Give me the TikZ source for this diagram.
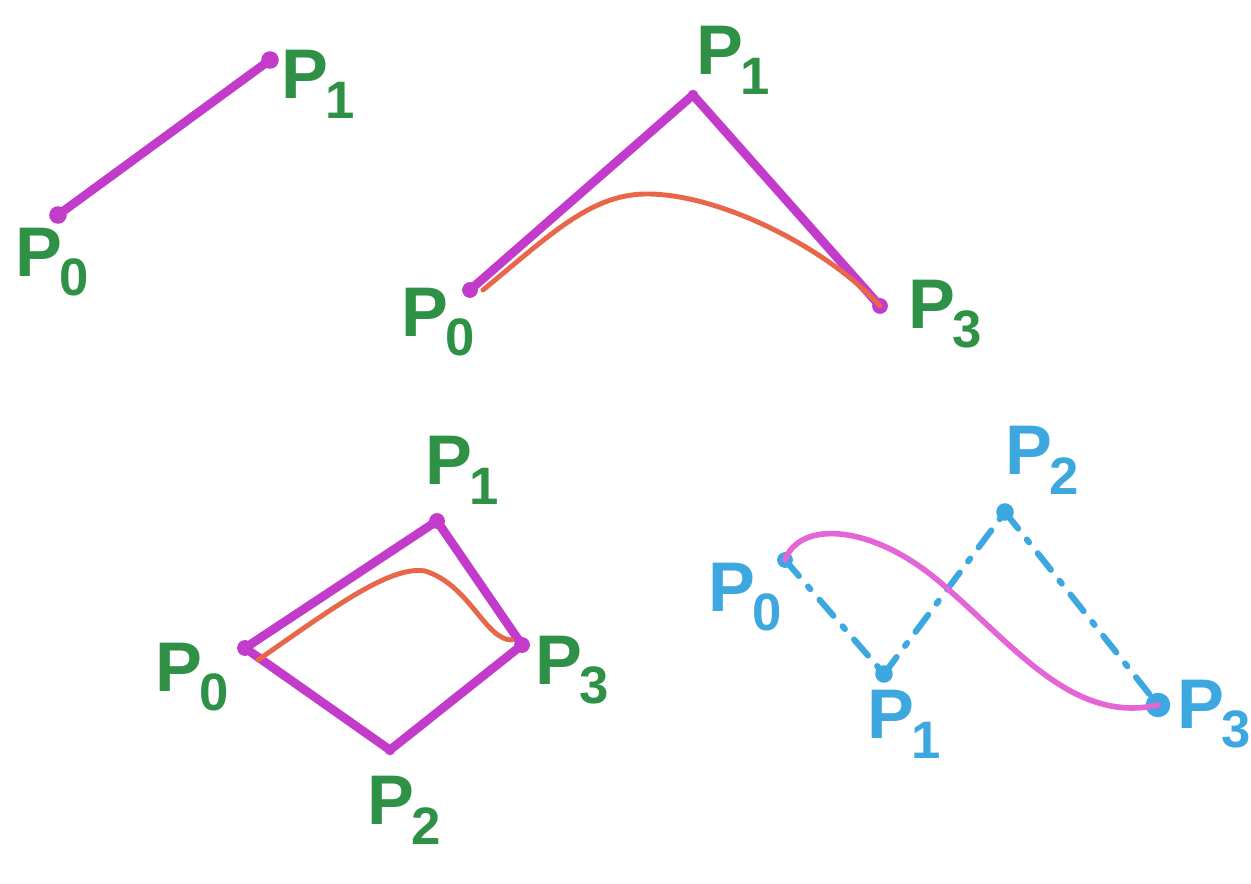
\documentclass[tikz,border=0pt]{standalone}
\usepackage{fontspec}
\setmainfont{Liberation Sans}
\definecolor{mag}{HTML}{C23BCB}
\definecolor{grn}{HTML}{2E9145}
\definecolor{org}{HTML}{E8674A}
\definecolor{blu}{HTML}{3DA8E0}
\definecolor{pnk}{HTML}{E466D6}
\newcommand{\lbl}[1]{P\kern-0.05em\raisebox{-0.28em}{\fontsize{30}{30}\selectfont #1}}
\tikzset{
  pt/.style={circle,fill=#1,inner sep=0pt,minimum size=13pt},
  poly/.style={draw=mag,line width=5pt,line cap=round,line join=round},
  curv/.style={draw=org,line width=2.8pt,line cap=round},
  gl/.style={text=grn,font=\fontsize{40}{40}\selectfont\bfseries},
  bl/.style={text=blu,font=\fontsize{40}{40}\selectfont\bfseries},
  dd/.style={draw=blu,line width=3.5pt,line cap=round,dash pattern=on 12pt off 8pt on 2pt off 8pt},
}
\begin{document}
\begin{tikzpicture}[x=0.02cm,y=-0.02cm]
\useasboundingbox (0,0) rectangle (1251,884);
% top-left: line
\node[pt=mag,minimum size=10pt] (a0) at (58,215) {};
\node[pt=mag,minimum size=10pt] (a1) at (270,60) {};
\draw[poly] (a0.center) -- (a1.center);
\node[gl] (la0) at (52,262) {\lbl{0}};
\node[gl] (la1) at (318,84) {\lbl{1}};
% top-right: quadratic
\node[pt=mag,minimum size=9pt] (b0) at (470,290) {};
\node[pt=mag,minimum size=6pt] (b1) at (693,95) {};
\node[pt=mag,minimum size=9pt] (b3) at (880,306) {};
\draw[poly] (b0.center) -- (b1.center) -- (b3.center);
\draw[curv] (483,290) .. controls (550,235) and (590,195) .. (645,194) .. controls (720,193) and (830,250) .. (b3.center);
\node[gl] (lb0) at (438,322) {\lbl{0}};
\node[gl] (lb1) at (733,60) {\lbl{1}};
\node[gl] (lb3) at (945,314) {\lbl{3}};
% bottom-left: quad
\node[pt=mag,minimum size=9pt] (c0) at (245,648) {};
\node[pt=mag,minimum size=9pt] (c1) at (437,521) {};
\node[pt=mag,minimum size=9pt] (c3) at (522,645) {};
\node[pt=mag,minimum size=6pt] (c2) at (390,750) {};
\draw[poly] (c0.center) -- (c1.center) -- (c3.center) -- (c2.center) -- cycle;
\draw[curv] (258,660) .. controls (330,610) and (390,565) .. (425,571) .. controls (470,585) and (485,640) .. (512,640);
\node[gl] (lc0) at (192,677) {\lbl{0}};
\node[gl] (lc1) at (462,470) {\lbl{1}};
\node[gl] (lc3) at (572,670) {\lbl{3}};
\node[gl] (lc2) at (404,810) {\lbl{2}};
% bottom-right: cubic
\node[pt=blu,minimum size=9pt] (d0) at (785,560) {};
\node[pt=blu,minimum size=10pt] (d1) at (884,674) {};
\node[pt=blu,minimum size=10pt] (d2) at (1005,512) {};
\node[pt=blu,minimum size=14pt] (d3) at (1158,705) {};
\draw[dd] (d0.center) -- (d1.center);
\draw[dd] (d1.center) -- (d2.center);
\draw[dd] (d2.center) -- (d3.center);
\draw[pnk,line width=3.2pt,line cap=round] (d0.center) .. controls (800,520) and (870,525) .. (935,578) .. controls (1010,640) and (1070,725) .. (d3.center);
\node[bl] (ld0) at (745,597) {\lbl{0}};
\node[bl] (ld1) at (904,724) {\lbl{1}};
\node[bl] (ld2) at (1042,460) {\lbl{2}};
\node[bl] (ld3) at (1214,714) {\lbl{3}};
\end{tikzpicture}
\end{document}
